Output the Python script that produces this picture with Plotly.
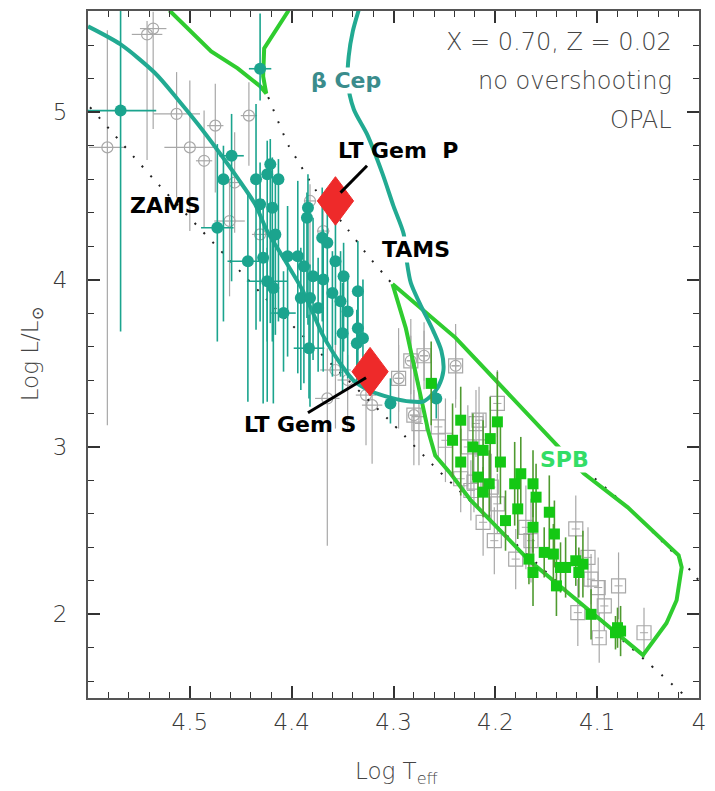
import plotly.graph_objects as go

# ---------------- data ----------------
# beta Cep stars (filled teal circles): Log Teff, Log L, errors (+L, -L, Teff)
BCEP_T = [4.568, 4.431, 4.459, 4.467, 4.435, 4.421, 4.424, 4.413, 4.431, 4.419,
          4.384, 4.385, 4.416, 4.370, 4.365, 4.473, 4.443, 4.428, 4.404, 4.394,
          4.357, 4.388, 4.379, 4.369, 4.349, 4.424, 4.418, 4.408, 4.391, 4.382,
          4.374, 4.360, 4.352, 4.345, 4.335, 4.350, 4.335, 4.336, 4.330, 4.383,
          4.303, 4.258]
BCEP_L = [5.01, 5.26, 4.74, 4.60, 4.60, 4.69, 4.63, 4.60, 4.45, 4.43,
          4.43, 4.37, 4.27, 4.25, 4.22, 4.31, 4.11, 4.13, 4.14, 4.14,
          4.11, 4.08, 4.02, 4.00, 4.02, 3.99, 3.95, 3.80, 3.89, 3.89,
          3.83, 3.92, 3.87, 3.81, 3.93, 3.68, 3.71, 3.62, 3.65, 3.59,
          3.26, 3.29]
BCEP_EUP = [0.61, 0.33, 0.25, 0.20, 0.45, 0.15, 0.20, 0.12, 0.25, 0.30,
            0.20, 0.15, 0.35, 0.30, 0.25, 0.50, 0.40, 0.35, 0.30, 0.45,
            0.25, 0.30, 0.35, 0.30, 0.20, 0.20, 0.30, 0.25, 0.30, 0.20,
            0.30, 0.25, 0.30, 0.20, 0.30, 0.30, 0.25, 0.20, 0.35, 0.20,
            0.15, 0.12]
BCEP_EDN = [1.32, 0.19, 0.75, 0.85, 0.90, 0.95, 1.00, 0.85, 0.70, 0.80,
            0.70, 0.60, 0.60, 0.50, 0.60, 0.68, 0.84, 0.87, 0.60, 0.70,
            0.50, 0.70, 0.50, 0.55, 0.45, 0.72, 0.69, 0.35, 0.55, 0.65,
            0.38, 0.50, 0.45, 0.40, 0.35, 0.35, 0.30, 0.25, 0.30, 0.30,
            0.12, 0.12]
BCEP_ET = [0.035, 0.011, 0.012, 0, 0, 0, 0, 0, 0, 0,
           0, 0, 0, 0, 0, 0.016, 0.020, 0, 0, 0,
           0, 0, 0, 0, 0, 0.020, 0, 0.012, 0, 0,
           0, 0, 0, 0, 0, 0, 0, 0, 0, 0.015,
           0, 0]

# other B stars (open grey circles)
OB_T = [4.536, 4.542, 4.513, 4.581, 4.500, 4.475, 4.486, 4.442, 4.456, 4.461,
        4.431, 4.382, 4.369, 4.357, 4.345, 4.365, 4.321, 4.327,
        4.283, 4.270, 4.239, 4.295, 4.280]
OB_L = [5.50, 5.465, 4.99, 4.79, 4.79, 4.92, 4.71, 4.98, 4.58, 4.35,
        4.27, 4.47, 4.29, 3.46, 3.40, 3.29, 3.25, 3.31,
        3.515, 3.545, 3.485, 3.41, 3.19]
OB_EUP = [0.10, 0.08, 0.25, 0.70, 0.40, 0.25, 0.30, 0.20, 0.30, 0.25,
          0.30, 0.10, 0.15, 0.20, 0.15, 0.30, 0.20, 0.20,
          0.15, 0.15, 0.20, 0.20, 0.15]
OB_EDN = [0.60, 0.75, 0.50, 1.66, 0.50, 0.40, 0.40, 0.30, 0.30, 0.45,
          0.30, 0.40, 0.30, 0.35, 0.30, 0.88, 0.35, 0.30,
          0.20, 0.15, 0.20, 0.20, 0.15]
OB_ET = [0.013, 0.015, 0.023, 0.018, 0.025, 0.008, 0.008, 0.008, 0.008, 0.015,
         0.008, 0.006, 0.006, 0.015, 0.010, 0.012, 0.010, 0.010,
         0.004, 0.004, 0.004, 0.004, 0.004]

# SPB stars (filled green squares)
SPB_T = [4.263, 4.234, 4.198, 4.242, 4.205, 4.222, 4.212, 4.234, 4.195, 4.217,
         4.175, 4.206, 4.181, 4.163, 4.212, 4.160, 4.178, 4.147, 4.190, 4.163,
         4.142, 4.152, 4.143, 4.167, 4.163, 4.136, 4.131, 4.121, 4.114, 4.118,
         4.140, 4.106, 4.080, 4.077, 4.082]
SPB_L = [3.38, 3.16, 3.15, 3.04, 3.05, 3.00, 2.98, 2.91, 2.91, 2.82,
         2.84, 2.78, 2.78, 2.78, 2.73, 2.70, 2.63, 2.61, 2.56, 2.52,
         2.48, 2.37, 2.36, 2.33, 2.25, 2.28, 2.28, 2.32, 2.30, 2.25,
         2.17, 2.00, 1.92, 1.90, 1.89]
SPB_E = [0.25, 0.20, 0.30, 0.22, 0.25, 0.20, 0.18, 0.20, 0.25, 0.18,
         0.22, 0.20, 0.25, 0.20, 0.15, 0.20, 0.18, 0.22, 0.18, 0.15,
         0.20, 0.15, 0.18, 0.15, 0.20, 0.15, 0.18, 0.15, 0.20, 0.15,
         0.18, 0.15, 0.12, 0.15, 0.10]

# other late B stars (open grey squares)
LB_T = [4.283, 4.270, 4.239, 4.295, 4.280, 4.275, 4.256, 4.249, 4.219, 4.198,
        4.216, 4.227, 4.212, 4.234, 4.221, 4.204, 4.224, 4.212, 4.201, 4.180,
        4.198, 4.121, 4.109, 4.106, 4.099, 4.093, 4.119, 4.098, 4.079, 4.054,
        4.170, 4.165]
LB_L = [3.515, 3.545, 3.485, 3.41, 3.19, 3.14, 3.12, 3.04, 3.14, 3.26,
        3.16, 3.00, 3.00, 2.81, 2.79, 2.76, 2.74, 2.55, 2.44, 2.33,
        2.66, 2.51, 2.34, 2.21, 2.16, 2.05, 2.01, 1.86, 2.17, 1.89,
        2.52, 2.44]
LB_E = [0.25, 0.20, 0.25, 0.30, 0.30, 0.25, 0.20, 0.25, 0.20, 0.20,
        0.20, 0.25, 0.20, 0.20, 0.18, 0.20, 0.18, 0.20, 0.20, 0.18,
        0.18, 0.20, 0.18, 0.15, 0.18, 0.15, 0.20, 0.15, 0.20, 0.15,
        0.25, 0.25]

# LT Gem components
LTGEM_T = [4.357, 4.323]
LTGEM_L = [4.47, 3.45]

# ZAMS and the beta Cep instability-strip boundary (one continuous curve)
BCEP_EDGE_T = [4.600, 4.568, 4.534, 4.512, 4.492, 4.472, 4.453, 4.436, 4.424, 4.408,
               4.389, 4.380, 4.369, 4.352, 4.339, 4.323, 4.303, 4.283, 4.271, 4.264,
               4.256, 4.251, 4.253, 4.261, 4.274, 4.283, 4.287, 4.290, 4.300, 4.311,
               4.326, 4.339, 4.345, 4.344, 4.340, 4.334]
BCEP_EDGE_L = [5.513, 5.405, 5.233, 5.078, 4.928, 4.767, 4.606, 4.451, 4.290, 4.129,
               3.933, 3.813, 3.664, 3.497, 3.396, 3.336, 3.295, 3.271, 3.271, 3.301,
               3.360, 3.456, 3.575, 3.694, 3.855, 3.980, 4.112, 4.273, 4.439, 4.636,
               4.869, 5.018, 5.185, 5.334, 5.483, 5.614]

# SPB instability-strip boundary
SPB_EDGE_T = [4.301, 4.288, 4.273, 4.266, 4.259, 4.244, 4.224, 4.167, 4.108, 4.055,
              4.032, 4.022, 4.017, 4.020, 4.070, 4.113, 4.141, 4.239, 4.301]
SPB_EDGE_L = [3.974, 3.712, 3.295, 3.098, 2.949, 2.841, 2.681, 2.323, 2.024, 1.756,
              1.947, 2.084, 2.281, 2.352, 2.639, 2.841, 3.020, 3.652, 3.974]

# SPB boundary segment at high luminosity
SPB_TOP_T = [4.520, 4.479, 4.453, 4.431, 4.425, 4.428, 4.427, 4.403]
SPB_TOP_L = [5.608, 5.364, 5.262, 5.155, 5.113, 5.215, 5.382, 5.608]

# dotted reference tracks
DOT_ZAMS_T = [4.598, 4.531, 4.463, 4.418, 4.360, 4.301, 4.256, 4.155, 4.050, 4.015]
DOT_ZAMS_L = [5.03, 4.57, 4.13, 3.84, 3.49, 3.14, 2.86, 2.28, 1.71, 1.52]
DOT_TAMS_T = [4.423, 4.403, 4.394, 4.377, 4.345, 4.326, 4.305, 4.301, 4.239, 4.141, 4.070, 4.008, 4.000]
DOT_TAMS_L = [5.09, 4.80, 4.71, 4.54, 4.30, 4.15, 4.00, 3.974, 3.652, 3.020, 2.639, 2.26, 2.20]

# leader lines for the LT Gem labels
LEAD_P_T = [4.326, 4.352]
LEAD_P_L = [4.68, 4.52]
LEAD_S_T = [4.384, 4.327]
LEAD_S_L = [3.205, 3.414]

X_TICKS = [4.5, 4.4, 4.3, 4.2, 4.1, 4.0]
X_TICKTEXT = ["4.5", "4.4", "4.3", "4.2", "4.1", "4"]
Y_TICKS = [2, 3, 4, 5]
Y_TICKTEXT = ["2", "3", "4", "5"]

# ---------------- styles ----------------
TEAL = "#1ba48e"
TEAL_LINE = "#22aa92"
GREEN_LINE = "#2fcc2f"
GREEN_MARK = "#14c814"
GREEN_ERR = "#4f9a30"
GREY = "#a8a8a8"
RED = "#ee2a2a"
FONT = "DejaVu Sans"
DIAMOND_HALF_T = 0.0178   # half-width of LT Gem diamonds, in Log Teff
DIAMOND_HALF_L = 0.145    # half-height of LT Gem diamonds, in Log L

fig = go.Figure()

# grey open squares
fig.add_trace(go.Scatter(
    x=LB_T, y=LB_L, mode="markers",
    marker=dict(symbol="square-open", size=14, color=GREY, line=dict(width=1.2)),
    error_y=dict(type="data", array=LB_E, color=GREY, thickness=1.2, width=0),
    error_x=dict(type="data", array=[0.004] * len(LB_T), color=GREY, thickness=1.0, width=0),
    hoverinfo="skip", showlegend=False))

# grey open circles
fig.add_trace(go.Scatter(
    x=OB_T, y=OB_L, mode="markers",
    marker=dict(symbol="circle-open", size=11, color=GREY, line=dict(width=1.2)),
    error_y=dict(type="data", symmetric=False, array=OB_EUP, arrayminus=OB_EDN,
                 color=GREY, thickness=1.2, width=0),
    error_x=dict(type="data", array=OB_ET, color=GREY, thickness=1.2, width=0),
    hoverinfo="skip", showlegend=False))

# dotted tracks
for xs, ys in ((DOT_ZAMS_T, DOT_ZAMS_L), (DOT_TAMS_T, DOT_TAMS_L)):
    fig.add_trace(go.Scatter(
        x=xs, y=ys, mode="lines",
        line=dict(color="#222222", width=2, dash="2px,11px", shape="spline", smoothing=0.6),
        hoverinfo="skip", showlegend=False))

# instability-strip boundaries
fig.add_trace(go.Scatter(
    x=SPB_TOP_T, y=SPB_TOP_L, mode="lines",
    line=dict(color=GREEN_LINE, width=4), hoverinfo="skip", showlegend=False))
fig.add_trace(go.Scatter(
    x=SPB_EDGE_T, y=SPB_EDGE_L, mode="lines",
    line=dict(color=GREEN_LINE, width=4), hoverinfo="skip", showlegend=False))
fig.add_trace(go.Scatter(
    x=BCEP_EDGE_T, y=BCEP_EDGE_L, mode="lines",
    line=dict(color=TEAL_LINE, width=4, shape="spline", smoothing=0.8),
    hoverinfo="skip", showlegend=False))

# beta Cep stars
fig.add_trace(go.Scatter(
    x=BCEP_T, y=BCEP_L, mode="markers",
    marker=dict(symbol="circle", size=12, color=TEAL),
    error_y=dict(type="data", symmetric=False, array=BCEP_EUP, arrayminus=BCEP_EDN,
                 color=TEAL, thickness=1.6, width=0),
    error_x=dict(type="data", array=BCEP_ET, color=TEAL, thickness=1.6, width=0),
    hoverinfo="skip", showlegend=False))

# SPB stars
fig.add_trace(go.Scatter(
    x=SPB_T, y=SPB_L, mode="markers",
    marker=dict(symbol="square", size=11, color=GREEN_MARK),
    error_y=dict(type="data", array=SPB_E, color=GREEN_ERR, thickness=1.6, width=0),
    hoverinfo="skip", showlegend=False))

# LT Gem diamonds
for t, l in zip(LTGEM_T, LTGEM_L):
    fig.add_trace(go.Scatter(
        x=[t - DIAMOND_HALF_T, t, t + DIAMOND_HALF_T, t, t - DIAMOND_HALF_T],
        y=[l, l + DIAMOND_HALF_L, l, l - DIAMOND_HALF_L, l],
        mode="lines", fill="toself", fillcolor=RED, line=dict(color=RED, width=1),
        hoverinfo="skip", showlegend=False))

# leader lines
for xs, ys in ((LEAD_P_T, LEAD_P_L), (LEAD_S_T, LEAD_S_L)):
    fig.add_trace(go.Scatter(
        x=xs, y=ys, mode="lines", line=dict(color="black", width=3),
        hoverinfo="skip", showlegend=False))

bold = dict(family=FONT, size=22, color="black", weight="bold")
notes = [
    dict(x=4.524, y=4.44, text="ZAMS", font=bold),
    dict(x=4.278, y=4.18, text="TAMS", font=bold, bgcolor="white", borderpad=0),
    dict(x=4.296, y=4.77, text="LT Gem\u00a0\u00a0P", font=bold),
    dict(x=4.392, y=3.134, text="LT Gem S", font=bold),
    dict(x=4.347, y=5.19, text="β Cep", bgcolor="white", borderpad=0,
         font=dict(family=FONT, size=22, color="#3a8c8c", weight="bold")),
    dict(x=4.132, y=2.925, text="SPB", bgcolor="white", borderpad=0,
         font=dict(family=FONT, size=22, color="#33dd66", weight="bold")),
]
for a in notes:
    fig.add_annotation(xref="x", yref="y", showarrow=False, **a)

light = dict(family=FONT, size=24, color="#444444", weight=300)
for txt, yy in (("X = 0.70, Z = 0.02", 0.955), ("no overshooting", 0.898), ("OPAL", 0.842)):
    fig.add_annotation(xref="paper", yref="paper", x=0.959, y=yy, xanchor="right",
                       yanchor="middle", text=txt, showarrow=False, font=light)

# axis titles
title_font = dict(family=FONT, size=23, color="#444444", weight=300)
fig.add_annotation(xref="paper", yref="paper", x=0.506, y=-0.109, text="Log T<sub>eff</sub>",
                   showarrow=False, font=title_font, xanchor="center", yanchor="middle")
fig.add_annotation(xref="paper", yref="paper", x=-0.092, y=0.5, text="Log L/L<sub>⊙</sub>",
                   showarrow=False, font=title_font, textangle=-90,
                   xanchor="center", yanchor="middle")

axis_common = dict(showgrid=False, zeroline=False, showline=True, linecolor="#555555",
                   linewidth=2, mirror="allticks", ticks="inside", ticklen=12,
                   tickwidth=1.5, tickcolor="#333333",
                   tickfont=dict(family=FONT, size=23, color="#3a3a3a", weight=300))

fig.update_xaxes(range=[4.6, 4.0], tickmode="array", tickvals=X_TICKS, ticktext=X_TICKTEXT,
                 minor=dict(tick0=4.0, dtick=0.02, ticks="inside", ticklen=6,
                            tickwidth=1.2, tickcolor="#333333"),
                 ticklabelstandoff=2, **axis_common)
fig.update_yaxes(range=[1.5, 5.605], tickmode="array", tickvals=Y_TICKS, ticktext=Y_TICKTEXT,
                 minor=dict(tick0=1.0, dtick=0.2, ticks="inside", ticklen=6,
                            tickwidth=1.2, tickcolor="#333333"),
                 ticklabelstandoff=14, **axis_common)

fig.update_layout(width=715, height=791, margin=dict(l=88, r=12, t=9, b=93),
                  paper_bgcolor="white", plot_bgcolor="white")

fig.write_html("out.html")
